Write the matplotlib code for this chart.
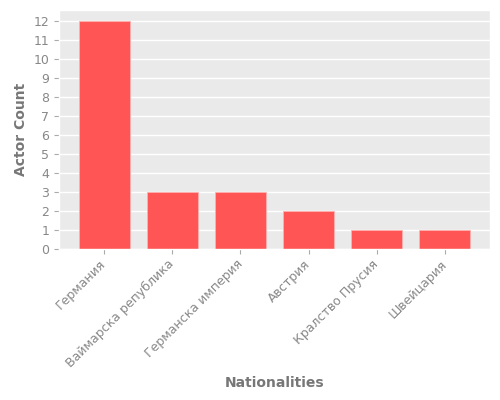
import matplotlib
matplotlib.use("Agg")
import matplotlib.pyplot as plt

plt.style.use("ggplot")

nationalities = ["Германия", "Ваймарска република", "Германска империя",
                 "Австрия", "Кралство Прусия", "Швейцария"]
counts = [12, 3, 3, 2, 1, 1]

fig, ax = plt.subplots(figsize=(5, 4), dpi=100)
ax.set_facecolor("#EAEAEA")
ax.bar(nationalities, counts, width=0.75, color="#FF5555",
       edgecolor="#FFB0B0", linewidth=0.6)

ax.set_yticks(range(0, 13))
ax.xaxis.grid(False)
ax.yaxis.grid(True, color="white", linewidth=1)
ax.set_xlabel("Nationalities", fontweight="bold", color="#777777", fontsize=10)
ax.set_ylabel("Actor Count", fontweight="bold", color="#777777", fontsize=10)
plt.setp(ax.get_xticklabels(), rotation=45, ha="right", va="center",
         rotation_mode="anchor")
ax.tick_params(labelsize=9, labelcolor="#888888", color="#AAAAAA")
ax.tick_params(axis="x", pad=6)

plt.subplots_adjust(left=0.118, right=0.98, top=0.975, bottom=0.3775)
plt.savefig("out.png", dpi=100)
